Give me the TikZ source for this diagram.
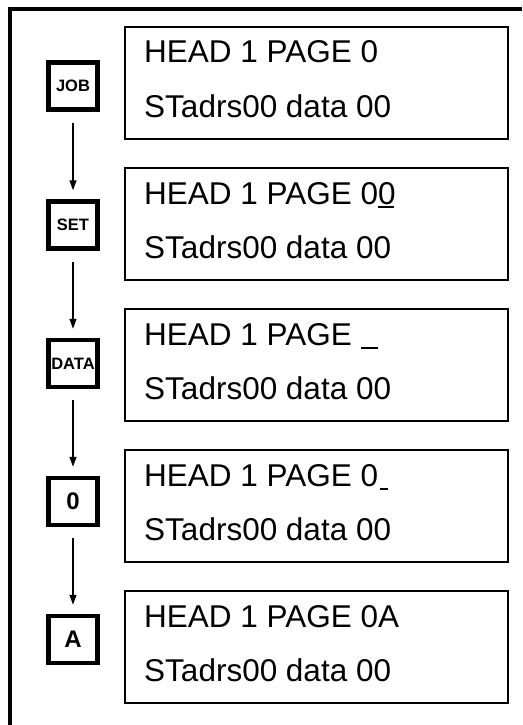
\documentclass[tikz,border=0pt]{standalone}
\usepackage{fontspec}
\setmainfont{Liberation Sans}
\usetikzlibrary{arrows.meta}
\tikzset{
  keybox/.style={draw, line width=4.5pt, minimum width=49pt, minimum height=47pt, inner sep=0pt, font=\fontsize{16.5}{19}\selectfont\bfseries},
  bigkey/.style={keybox, font=\fontsize{24}{27}\selectfont\bfseries},
  lcd/.style={draw, line width=2pt, minimum width=383pt, minimum height=112pt, inner sep=0pt},
  lcdtxt/.style={anchor=base west, inner sep=0pt, font=\fontsize{31.5}{36}\selectfont},
  arr/.style={-{Triangle[length=10pt,width=7pt]}, line width=1.5pt, shorten <=11pt, shorten >=9pt},
  frame/.style={line width=4pt}
}
\newcommand{\ul}[1]{\rule[-4pt]{#1}{2pt}}
\begin{document}
\begin{tikzpicture}[x=1pt,y=-1pt]
\useasboundingbox (0,0) rectangle (522,725);
\draw[frame] (10,725) -- (10,9.5) -- (522,9.5);
% keys
\node[keybox] (job) at (73,86) {JOB};
\node[keybox] (set) at (73,225) {SET};
\node[keybox] (data) at (73,363.5) {DATA};
\node[bigkey] (zero) at (73,501.5) {0};
\node[bigkey] (akey) at (73,639.5) {A};
% arrows
\draw[arr] (job.south) -- (set.north);
\draw[arr] (set.south) -- (data.north);
\draw[arr] (data.south) -- (zero.north);
\draw[arr] (zero.south) -- (akey.north);
% displays
\node[lcd] (d1) at (316.5,83) {};
\node[lcd] (d2) at (316.5,224) {};
\node[lcd] (d3) at (316.5,365) {};
\node[lcd] (d4) at (316.5,506) {};
\node[lcd] (d5) at (316.5,647) {};
\node[lcdtxt] (t1a) at (144,63) {HEAD 1 PAGE 0};
\node[lcdtxt] (t1b) at (144,117) {STadrs00 data 00};
\node[lcdtxt] (t2a) at (144,204) {HEAD 1 PAGE 0\rlap{\ul{16pt}}0};
\node[lcdtxt] (t2b) at (144,258) {STadrs00 data 00};
\node[lcdtxt] (t3a) at (144,345) {HEAD 1 PAGE \ul{17pt}};
\node[lcdtxt] (t3b) at (144,399) {STadrs00 data 00};
\node[lcdtxt] (t4a) at (144,486) {HEAD 1 PAGE 0\hspace{2pt}\ul{8pt}};
\node[lcdtxt] (t4b) at (144,540) {STadrs00 data 00};
\node[lcdtxt] (t5a) at (144,627) {HEAD 1 PAGE 0A};
\node[lcdtxt] (t5b) at (144,681) {STadrs00 data 00};
\end{tikzpicture}
\end{document}
